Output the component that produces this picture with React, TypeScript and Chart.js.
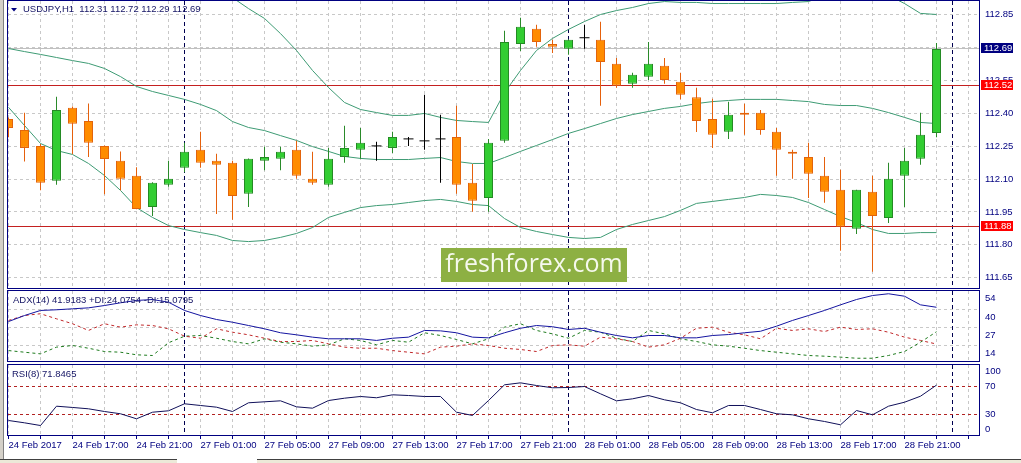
import { useEffect, useRef } from "react";
import Chart from "chart.js/auto";

const NAVY = "#000080";
const GRID = "#C8C8C8";
const BAND = "#3E9B74";
const LEVEL = "#C42020";
const FONT = '"Liberation Sans", Arial, sans-serif';
const SMALL = 9.5;

// 59 hourly candles: 24 Feb 2017 13:00 .. 28 Feb 2017 23:00
const symbol = "USDJPY,H1";
const xTickLabels = [
  "24 Feb 2017", "24 Feb 17:00", "24 Feb 21:00", "27 Feb 01:00", "27 Feb 05:00",
  "27 Feb 09:00", "27 Feb 13:00", "27 Feb 17:00", "27 Feb 21:00", "28 Feb 01:00",
  "28 Feb 05:00", "28 Feb 09:00", "28 Feb 13:00", "28 Feb 17:00", "28 Feb 21:00",
];
const daySeparators = [11, 35, 59];

const opens = [
  112.374, 112.324, 112.251, 112.092, 112.425, 112.365, 112.251, 112.183, 112.115, 111.973,
  112.074, 112.151, 112.233, 112.183, 112.174, 112.033, 112.183, 112.192, 112.233, 112.101,
  112.074, 112.201, 112.233, 112.251, 112.242, 112.283, 112.274, 112.283, 112.292, 112.083,
  112.014, 112.274, 112.716, 112.785, 112.716, 112.694, 112.744, 112.735, 112.625, 112.534,
  112.566, 112.616, 112.543, 112.473, 112.374, 112.315, 112.402, 112.402, 112.315, 112.224,
  112.201, 112.115, 112.051, 111.873, 112.042, 111.923, 112.115, 112.192, 112.31,
];
const highs = [
  112.38, 112.402, 112.26, 112.475, 112.431, 112.444, 112.253, 112.226, 112.154, 112.085,
  112.183, 112.265, 112.315, 112.215, 112.183, 112.194, 112.247, 112.247, 112.274, 112.224,
  112.242, 112.343, 112.333, 112.27, 112.315, 112.292, 112.484, 112.393, 112.434, 112.169,
  112.283, 112.776, 112.835, 112.803, 112.735, 112.737, 112.803, 112.817, 112.652, 112.584,
  112.725, 112.652, 112.584, 112.516, 112.466, 112.452, 112.443, 112.415, 112.333, 112.233,
  112.265, 112.201, 112.142, 112.051, 112.115, 112.174, 112.242, 112.402, 112.72,
];
const lows = [
  112.291, 112.18, 112.049, 112.074, 112.213, 112.2, 112.031, 112.049, 111.962, 111.931,
  112.065, 112.131, 112.151, 111.941, 111.914, 111.973, 112.14, 112.14, 112.101, 112.074,
  112.065, 112.174, 112.192, 112.183, 112.219, 112.251, 112.233, 112.083, 112.033, 111.951,
  111.951, 112.265, 112.684, 112.703, 112.675, 112.666, 112.694, 112.434, 112.516, 112.516,
  112.552, 112.534, 112.464, 112.314, 112.242, 112.283, 112.302, 112.302, 112.115, 112.101,
  112.014, 111.992, 111.773, 111.85, 111.677, 111.9, 111.973, 112.165, 112.29,
];
const closes = [
  112.333, 112.242, 112.083, 112.415, 112.352, 112.265, 112.191, 112.101, 111.964, 112.083,
  112.101, 112.224, 112.174, 112.165, 112.023, 112.192, 112.201, 112.224, 112.115, 112.083,
  112.192, 112.242, 112.265, 112.251, 112.292, 112.283, 112.274, 112.283, 112.074, 112.001,
  112.265, 112.725, 112.794, 112.725, 112.703, 112.735, 112.744, 112.634, 112.525, 112.575,
  112.625, 112.552, 112.484, 112.365, 112.302, 112.393, 112.393, 112.324, 112.233, 112.215,
  112.124, 112.042, 111.882, 112.051, 111.932, 112.101, 112.183, 112.302, 112.693,
];

// Bollinger bands (upper band is above the visible area for the first hours)
const bandUpper = [
  null, null, null, null, null, null, null, null, null, null,
  null, null, null, null, 112.927, 112.877, 112.832, 112.763, 112.686, 112.595,
  112.517, 112.449, 112.417, 112.403, 112.39, 112.39, 112.399, 112.381, 112.367, 112.362,
  112.358, 112.494, 112.595, 112.686, 112.741, 112.782, 112.818, 112.85, 112.868, 112.882,
  112.9, 112.909, 112.905, 112.905, 112.9, 112.9, 112.9, 112.9, 112.9, 112.905,
  112.909, 112.937, 112.959, 112.968, 112.968, 112.937, 112.9, 112.855, 112.85,
];
const bandMiddle = [
  112.695, 112.681, 112.668, 112.654, 112.64, 112.627, 112.604, 112.567, 112.522, 112.499,
  112.481, 112.463, 112.44, 112.412, 112.362, 112.335, 112.321, 112.298, 112.276, 112.248,
  112.226, 112.203, 112.194, 112.189, 112.189, 112.189, 112.194, 112.198, 112.18, 112.171,
  112.171, 112.198, 112.226, 112.253, 112.28, 112.308, 112.33, 112.353, 112.376, 112.394,
  112.408, 112.422, 112.431, 112.444, 112.453, 112.458, 112.463, 112.463, 112.463, 112.458,
  112.453, 112.44, 112.435, 112.435, 112.422, 112.403, 112.381, 112.358, 112.353,
];
const bandLower = [
  112.427, 112.344, 112.262, 112.23, 112.212, 112.171, 112.116, 112.048, 111.97, 111.925,
  111.888, 111.87, 111.856, 111.843, 111.82, 111.815, 111.82, 111.834, 111.852, 111.879,
  111.925, 111.948, 111.97, 111.979, 111.984, 111.993, 112.002, 112.007, 111.998, 111.984,
  111.979, 111.92, 111.879, 111.861, 111.847, 111.834, 111.829, 111.834, 111.87, 111.893,
  111.911, 111.929, 111.957, 111.989, 111.998, 112.007, 112.016, 112.03, 112.025, 112.016,
  111.993, 111.961, 111.929, 111.902, 111.87, 111.852, 111.852, 111.856, 111.856,
];
const levels = [112.526, 111.884];
const priceTicks = [111.65, 111.8, 111.95, 112.1, 112.25, 112.4, 112.55, 112.7, 112.85];

const adx = [
  31.5, 35.9, 39.6, 40.1, 40.8, 41.5, 43.2, 45.2, 46.9, 47.6,
  45.6, 39.6, 35.9, 33.0, 31.0, 28.6, 26.2, 23.3, 21.8, 20.1,
  18.9, 18.9, 18.9, 17.7, 19.3, 20.1, 25.0, 24.7, 23.3, 20.1,
  19.6, 23.3, 26.6, 28.6, 27.7, 25.7, 26.6, 23.7, 21.3, 19.6,
  21.3, 21.3, 19.6, 19.6, 21.3, 22.0, 23.3, 24.4, 28.1, 32.3,
  35.9, 39.6, 43.7, 47.6, 50.5, 51.8, 50.0, 43.7, 41.9183,
];
const plusDI = [
  10.3, 9.1, 7.9, 12.8, 14.0, 12.0, 9.6, 9.1, 7.2, 6.7,
  16.0, 20.8, 21.3, 19.3, 16.9, 15.2, 18.9, 16.4, 15.2, 13.5,
  14.5, 18.9, 17.7, 14.5, 17.7, 16.4, 23.3, 21.3, 18.4, 15.2,
  18.9, 27.4, 29.9, 25.0, 22.5, 19.3, 25.0, 23.7, 19.3, 16.9,
  25.0, 22.5, 18.9, 16.9, 14.5, 13.5, 12.0, 10.3, 9.1, 7.9,
  6.7, 6.2, 5.5, 4.7, 4.7, 6.7, 9.6, 16.4, 24.0754,
];
const minusDI = [
  32.3, 35.9, 37.2, 33.5, 29.9, 25.0, 29.9, 27.4, 29.1, 28.6,
  26.2, 20.8, 19.3, 26.2, 23.7, 21.8, 19.3, 16.9, 16.9, 17.7,
  15.2, 12.8, 12.0, 12.0, 10.3, 9.1, 7.9, 12.8, 13.5, 15.2,
  14.0, 12.0, 11.1, 9.6, 14.0, 14.5, 13.5, 20.1, 18.9, 16.9,
  12.8, 14.5, 19.3, 26.6, 27.4, 23.7, 21.8, 18.9, 26.6, 25.0,
  26.2, 24.2, 27.4, 25.7, 26.2, 23.7, 20.1, 17.7, 15.0795,
];
const adxTicks = [14, 27, 40, 54];

const rsi = [
  21.9, 18.6, 14.8, 42.1, 40.3, 38.4, 34.6, 31.4, 24.3, 33.6,
  35.6, 45.5, 43.1, 40.7, 34.6, 46.9, 48.3, 49.7, 41.2, 39.3,
  50.1, 53.4, 55.8, 54.0, 58.2, 57.2, 55.8, 55.8, 33.6, 29.0,
  50.1, 72.3, 75.1, 71.3, 68.1, 68.5, 69.9, 59.6, 49.7, 52.5,
  57.2, 51.1, 46.9, 37.4, 32.8, 43.1, 43.1, 37.4, 31.4, 29.9,
  24.3, 20.5, 15.8, 36.0, 29.9, 42.1, 47.7, 56.2, 71.8465,
];
const rsiLevels = [70, 30];
const rsiTicks = [100, 70, 30, 0];

const last = opens.length - 1;
const trunc2 = (v: number) => (Math.floor(v * 100 + 1e-6) / 100).toFixed(2);
const font = (size = SMALL) => `${size}px ${FONT}`;

// 16 px per candle, candle centres on whole pixels
const X_MIN = -0.03125;
const X_MAX = 60.65625;

function xAxis(showLabels: boolean) {
  return {
    type: "linear" as const,
    min: X_MIN,
    max: X_MAX,
    offset: false,
    afterBuildTicks: (s: any) => {
      const t = [];
      for (let v = 0; v <= 60; v += 2) t.push({ value: v });
      s.ticks = t;
    },
    afterFit: (s: any) => {
      s.height = showLabels ? 28 : 0;
      s.paddingLeft = 0;
      s.paddingRight = 0;
    },
    grid: { color: GRID, drawTicks: showLabels, tickLength: 4, tickColor: NAVY, offset: false },
    border: { display: false, dash: [3, 3] },
    ticks: {
      display: showLabels,
      autoSkip: false,
      maxRotation: 0,
      minRotation: 0,
      align: "start" as const,
      padding: 1,
      color: NAVY,
      font: { family: FONT, size: SMALL },
      callback: (v: any) => (v % 4 === 0 ? xTickLabels[v / 4] ?? "" : ""),
    },
  };
}

function yAxis(min: number, max: number, ticks: number[], showLabels: boolean) {
  return {
    position: "right" as const,
    min,
    max,
    afterBuildTicks: (s: any) => {
      s.ticks = ticks.map((value) => ({ value }));
    },
    afterFit: (s: any) => {
      s.width = 42;
      s.paddingTop = 0;
      s.paddingBottom = 0;
    },
    grid: { color: GRID, drawTicks: false },
    border: { display: false, dash: [3, 3] },
    ticks: {
      display: showLabels,
      padding: 6,
      color: NAVY,
      font: { family: FONT, size: SMALL },
      callback: (v: any) => Number(v).toFixed(2),
    },
  };
}

function options(padTop: number, padBottom: number, y: any, showX: boolean) {
  return {
    responsive: false,
    animation: false as const,
    events: [],
    layout: { autoPadding: false, padding: { left: 8, right: 0, top: padTop, bottom: padBottom } },
    plugins: { legend: { display: false }, tooltip: { enabled: false } },
    scales: { x: xAxis(showX), y },
  };
}

const frame = {
  id: "frame",
  afterDraw(chart: any) {
    const { ctx, chartArea: a } = chart;
    ctx.save();
    ctx.strokeStyle = NAVY;
    ctx.lineWidth = 1;
    ctx.strokeRect(a.left - 0.5, a.top - 0.5, a.right - a.left + 1, a.bottom - a.top + 1);
    ctx.restore();
  },
};

const daySep = {
  id: "daySep",
  beforeDatasetsDraw(chart: any) {
    const { ctx, chartArea: a, scales } = chart;
    ctx.save();
    ctx.strokeStyle = "#000050";
    ctx.lineWidth = 1;
    ctx.setLineDash([4, 3]);
    daySeparators.forEach((i) => {
      const px = Math.floor(scales.x.getPixelForValue(i)) + 0.5;
      ctx.beginPath();
      ctx.moveTo(px, a.top);
      ctx.lineTo(px, a.bottom);
      ctx.stroke();
    });
    ctx.restore();
  },
};

function hLine(chart: any, value: number, color: string, dash: number[]) {
  const { ctx, chartArea: a, scales } = chart;
  const py = Math.floor(scales.y.getPixelForValue(value)) + 0.5;
  ctx.save();
  ctx.strokeStyle = color;
  ctx.lineWidth = 1;
  ctx.setLineDash(dash);
  ctx.beginPath();
  ctx.moveTo(a.left, py);
  ctx.lineTo(a.right, py);
  ctx.stroke();
  ctx.restore();
}

const mainLines = {
  id: "mainLines",
  beforeDatasetsDraw(chart: any) {
    hLine(chart, closes[last], "#C0C0C0", []);
    levels.forEach((v) => hLine(chart, v, LEVEL, []));
  },
};

const mainOverlay = {
  id: "mainOverlay",
  afterDraw(chart: any) {
    const { ctx, chartArea: a, scales } = chart;
    ctx.save();
    // price tags on the axis
    const tags = [
      { v: closes[last], fill: NAVY },
      { v: levels[0], fill: "#FF0000" },
      { v: levels[1], fill: "#FF0000" },
    ];
    ctx.font = font();
    ctx.textBaseline = "middle";
    tags.forEach((t) => {
      const py = scales.y.getPixelForValue(t.v);
      ctx.fillStyle = t.fill;
      ctx.fillRect(a.right + 2, Math.floor(py) - 5, 32, 10);
      ctx.fillStyle = "#FFFFFF";
      ctx.fillText(trunc2(t.v), a.right + 5, Math.floor(py) + 0.5);
    });
    // title
    ctx.fillStyle = NAVY;
    ctx.beginPath();
    ctx.moveTo(11, 8);
    ctx.lineTo(17, 8);
    ctx.lineTo(14, 11.5);
    ctx.closePath();
    ctx.fill();
    ctx.fillStyle = "#141464";
    ctx.fillText(
      `${symbol}  ${trunc2(opens[last])} ${trunc2(highs[last])} ${trunc2(lows[last])} ${trunc2(closes[last])}`,
      23,
      9.5
    );
    // watermark
    ctx.fillStyle = "#8DB043";
    ctx.fillRect(441, 248, 186, 34);
    ctx.fillStyle = "#F6F9EE";
    ctx.font = '25px "Open Sans", sans-serif';
    ctx.textAlign = "center";
    ctx.fillText("freshforex.com", 534, 265);
    ctx.restore();
  },
};

function sideLabels(values: number[], place: (py: number, a: any) => number) {
  return {
    id: "sideLabels",
    afterDraw(chart: any) {
      const { ctx, chartArea: a, scales } = chart;
      ctx.save();
      ctx.font = font();
      ctx.fillStyle = NAVY;
      ctx.textBaseline = "middle";
      values.forEach((v) => {
        ctx.fillText(String(v), a.right + 6, place(scales.y.getPixelForValue(v), a));
      });
      ctx.restore();
    },
  };
}

function header(text: string, x: number) {
  return {
    id: "header",
    afterDraw(chart: any) {
      const { ctx } = chart;
      ctx.save();
      ctx.font = font();
      ctx.fillStyle = "#141464";
      ctx.textBaseline = "middle";
      ctx.fillText(text, x, 11);
      ctx.restore();
    },
  };
}

const rsiLines = {
  id: "rsiLines",
  beforeDatasetsDraw(chart: any) {
    rsiLevels.forEach((v) => hLine(chart, v, "#B22222", [3, 3]));
  },
};

const series = (values: (number | null)[]) => values.map((y, x) => ({ x, y }));

export default function App() {
  const mainRef = useRef<HTMLCanvasElement | null>(null);
  const adxRef = useRef<HTMLCanvasElement | null>(null);
  const rsiRef = useRef<HTMLCanvasElement | null>(null);

  useEffect(() => {
    if (!mainRef.current || !adxRef.current || !rsiRef.current) return;

    const candles = opens.map((o, i) => ({ i, o, h: highs[i], l: lows[i], c: closes[i] }));
    const bodies = candles.filter((k) => k.o !== k.c);
    const dojis = candles.filter((k) => k.o === k.c);
    const wickColor = (k: any) => (k.o === k.c ? "#000000" : k.c > k.o ? "#2A8A2A" : "#E5600C");

    const band = (values: (number | null)[]) => ({
      type: "line" as const,
      data: series(values),
      borderColor: BAND,
      borderWidth: 1,
      pointRadius: 0,
      tension: 0,
      spanGaps: false,
      order: 3,
    });

    const main = new Chart(mainRef.current, {
      type: "line",
      data: {
        datasets: [
          band(bandUpper),
          band(bandMiddle),
          band(bandLower),
          {
            type: "bar",
            data: candles.map((k) => ({ x: k.i, y: [k.l, k.h] })),
            backgroundColor: candles.map(wickColor),
            maxBarThickness: 1,
            grouped: false,
            inflateAmount: 0,
            order: 2,
          },
          {
            type: "bar",
            data: bodies.map((k) => ({ x: k.i, y: [k.o, k.c] })),
            backgroundColor: bodies.map((k) => (k.c > k.o ? "#32CD32" : "#FF8C00")),
            borderColor: bodies.map((k) => (k.c > k.o ? "#248A24" : "#E2640C")),
            borderWidth: 1,
            borderSkipped: false,
            maxBarThickness: 9,
            grouped: false,
            inflateAmount: 0,
            order: 1,
          },
          {
            type: "line",
            data: dojis.map((k) => ({ x: k.i, y: k.o })),
            showLine: false,
            pointStyle: "line",
            pointRadius: 5,
            pointBorderColor: "#000000",
            pointBorderWidth: 1,
            order: 0,
          },
        ],
      } as any,
      options: options(1, 2, yAxis(111.6034, 112.9115, priceTicks, true), false) as any,
      plugins: [frame, daySep, mainLines, mainOverlay],
    });

    const dash = (color: string, values: number[], solid = false) => ({
      data: series(values),
      borderColor: color,
      borderWidth: 1,
      borderDash: solid ? [] : [3, 3],
      pointRadius: 0,
      tension: 0,
    });

    const adxChart = new Chart(adxRef.current, {
      type: "line",
      data: {
        datasets: [
          dash("#1414A0", adx, true),
          dash("#C0282A", minusDI),
          dash("#1E7B1E", plusDI),
        ],
      },
      options: options(2, 2, yAxis(2.68, 53.81, [14, 27, 40], false), false) as any,
      plugins: [
        frame,
        daySep,
        sideLabels(adxTicks, (py) => py + 7.5),
        header(
          `ADX(14) ${adx[last].toFixed(4)} +DI:${plusDI[last].toFixed(4)} -DI:${minusDI[last].toFixed(4)}`,
          13
        ),
      ],
    });

    const rsiChart = new Chart(rsiRef.current, {
      type: "line",
      data: { datasets: [dash("#10105A", rsi, true)] },
      options: options(2, 0, yAxis(1.4, 100.3, [30, 70], false), true) as any,
      plugins: [
        frame,
        daySep,
        rsiLines,
        sideLabels(rsiTicks, (py, a) => Math.min(Math.max(py, a.top + 6.5), a.bottom - 6)),
        header(`RSI(8) ${rsi[last].toFixed(4)}`, 12),
      ],
    });

    return () => {
      main.destroy();
      adxChart.destroy();
      rsiChart.destroy();
    };
  }, []);

  return (
    <div
      style={{
        position: "fixed",
        left: 0,
        top: 0,
        width: 1021,
        height: 463,
        background: "#FFFFFF",
        overflow: "hidden",
      }}
    >
      <canvas ref={mainRef} width={1021} height={290} style={{ position: "absolute", left: 0, top: 0 }} />
      <canvas ref={adxRef} width={1021} height={74} style={{ position: "absolute", left: 0, top: 289 }} />
      <canvas ref={rsiRef} width={1021} height={100} style={{ position: "absolute", left: 0, top: 363 }} />
      <div style={{ position: "absolute", left: 0, top: 0, width: 3, height: 463, background: "#D4D0C8" }} />
      <div style={{ position: "absolute", left: 3, top: 0, width: 1, height: 463, background: "#808080" }} />
      <div
        style={{
          position: "absolute",
          left: 0,
          top: 459,
          width: 177,
          height: 4,
          background: "#ECE9D8",
          borderTop: "1px solid #404040",
        }}
      />
      <div
        style={{
          position: "absolute",
          left: 257,
          top: 459,
          width: 764,
          height: 4,
          background: "#ECE9D8",
          borderTop: "1px solid #404040",
        }}
      />
    </div>
  );
}
